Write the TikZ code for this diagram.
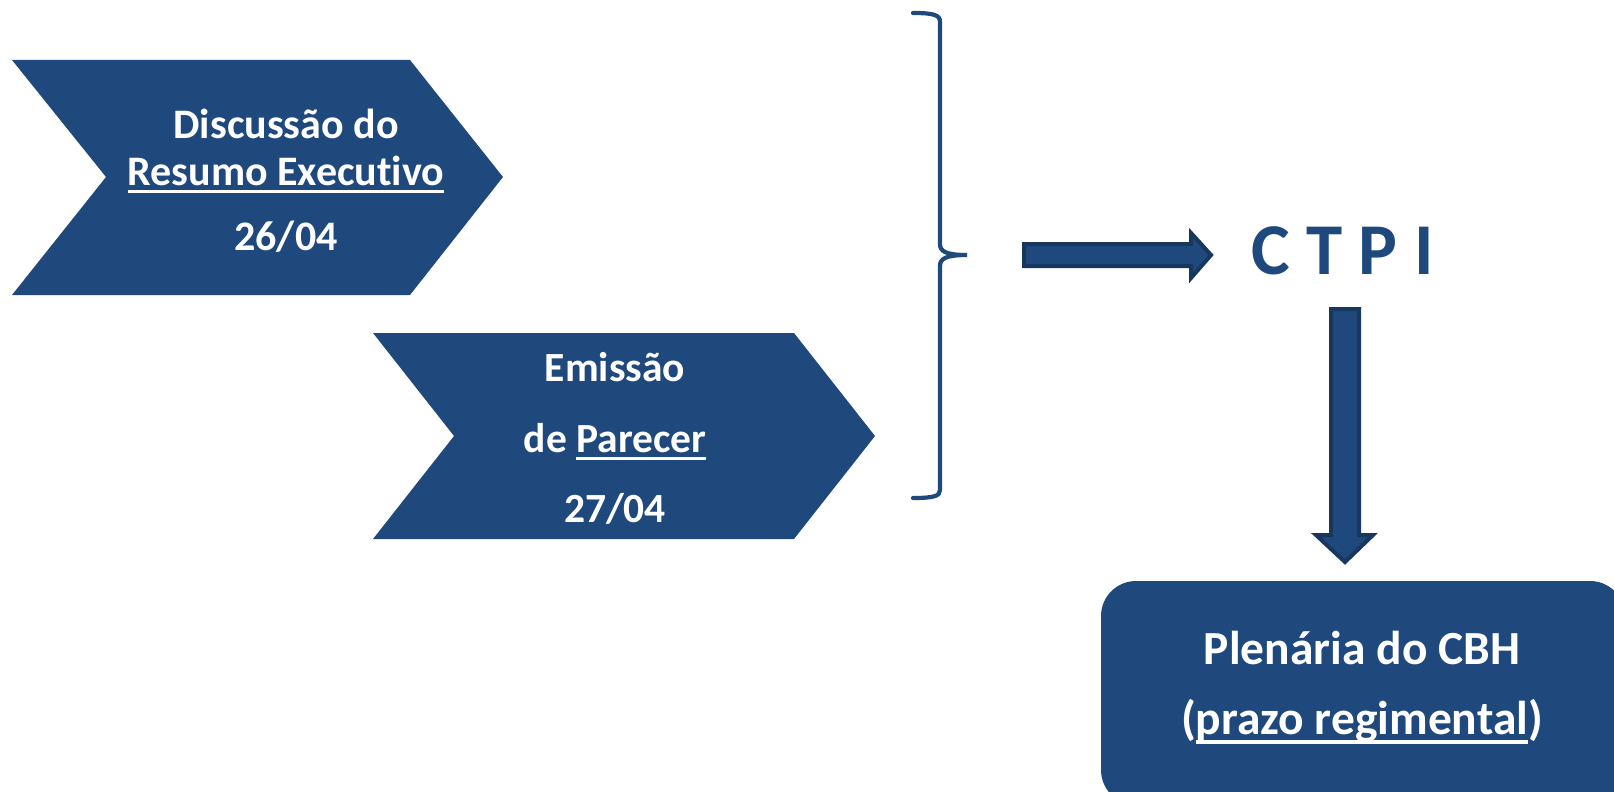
\documentclass[tikz,border=0pt]{standalone}
\usepackage{fontspec}
\setmainfont{Carlito}[Ligatures=NoCommon]
\definecolor{navy}{HTML}{1F497D}
\definecolor{navydark}{HTML}{17375E}
\newcommand\myul[1]{\setbox0\hbox{#1}\rlap{\rule[-0.2em]{\wd0}{0.07em}}\box0}
\begin{document}
\begin{tikzpicture}[x=1pt,y=-1pt,
  chev/.style={fill=navy},
  blockarrow/.style={fill=navy, draw=navydark, line width=4pt, line join=miter},
  brace/.style={draw=navy, line width=4.2pt, line cap=round},
  txt/.style={text=white, font=\bfseries\fontsize{42}{50}\selectfont, anchor=base, inner sep=0pt},
  txtb/.style={text=white, font=\bfseries\fontsize{47.5}{56}\selectfont, anchor=base, inner sep=0pt}]
\useasboundingbox (0,0) rectangle (1614,792);

% chevron 1
\fill[chev] (12,60) -- (410,60) -- (503,177) -- (410,295) -- (12,295) -- (106,177) -- cycle;
\node[txt] (d1) at (286,138) {Discussão do};
\node[txt] (d2) at (286,185) {\myul{Resumo Executivo}};
\node[txt] (d3) at (286,250) {26/04};

% chevron 2
\fill[chev] (373,333) -- (794,333) -- (875,436) -- (794,539) -- (373,539) -- (454,436) -- cycle;
\node[txt, font=\bfseries\fontsize{41.5}{50}\selectfont] (e1) at (615,381) {Emissão};
\node[txt, font=\bfseries\fontsize{41.5}{50}\selectfont] (e2) at (615,452) {de \myul{Parecer}};
\node[txt, font=\bfseries\fontsize{41.5}{50}\selectfont] (e3) at (615,522) {27/04};

% brace
\draw[brace] (913,13) .. controls (934,13) and (940,15) .. (940,22) -- (940,244)
  .. controls (940,251) and (945,255) .. (967,255)
  .. controls (945,255) and (940,259) .. (940,266) -- (940,490)
  .. controls (940,496) and (934,498) .. (913,498);

% CTPI
\node[anchor=base west, inner sep=0pt, text=navy, font=\bfseries\fontsize{73}{80}\selectfont] (ctpi) at (1251,274) {C T P I};

% right block arrow
\coordinate (ra) at (1024,255);
\coordinate (rb) at (1211,255);
\filldraw[blockarrow] (1024,244) -- (1191,244) -- (1191,233) -- (rb) -- (1191,278) -- (1191,266) -- (1024,266) -- cycle;

% plenary box
\begin{scope}
\clip (0,0) rectangle (1614,792);
\fill[navy, rounded corners=35pt] (1101,581) rectangle (1625,805);
\end{scope}
\node[txtb] (p1) at (1362,664) {Plenária do CBH};
\node[txtb] (p2) at (1362,734) {(\myul{prazo regimental})};

% down block arrow
\coordinate (da) at (1345,309);
\coordinate (db) at (1345,562);
\filldraw[blockarrow] (1331,309) -- (1359,309) -- (1359,535) -- (1373,535) -- (db) -- (1316,535) -- (1331,535) -- cycle;
\end{tikzpicture}
\end{document}
